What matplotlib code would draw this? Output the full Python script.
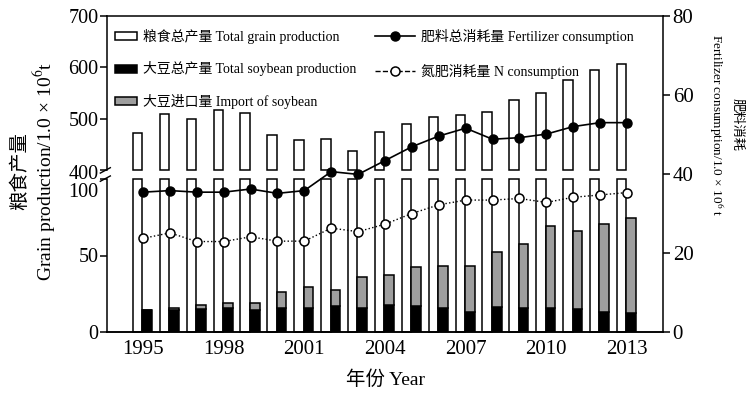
import numpy as np
import matplotlib
matplotlib.use("Agg")
import matplotlib.pyplot as plt
from matplotlib.lines import Line2D
from matplotlib.transforms import ScaledTranslation

plt.rcParams['font.family'] = ['Liberation Serif', 'Noto Sans CJK SC']
plt.rcParams['mathtext.fontset'] = 'stix'

years = np.arange(1995, 2014)
grain = [472, 510, 499, 517, 512, 468, 458, 461, 437, 474,
         489, 504, 507, 513, 536, 550, 575, 594, 606]          # 10^6 t
soy_prod = [14.2, 14.6, 15.3, 15.7, 14.6, 15.7, 15.7, 16.8, 15.7, 17.4,
            16.8, 15.7, 13.1, 16.3, 15.7, 15.7, 15.0, 13.1, 12.5]
soy_import = [0.3, 1.1, 2.6, 3.2, 4.3, 10.3, 13.5, 10.9, 20.0, 20.0,
              26.0, 27.7, 29.9, 36.2, 41.5, 53.8, 51.3, 57.7, 62.3]
fert_total = [35.4, 35.8, 35.4, 35.4, 36.2, 35.1, 35.8, 40.6, 39.9, 43.4,
              46.9, 49.6, 51.6, 48.8, 49.2, 50.1, 52.0, 53.0, 53.0]
fert_n = [23.7, 25.1, 22.9, 22.9, 24.1, 23.0, 23.0, 26.3, 25.4, 27.3,
          30.0, 32.2, 33.4, 33.4, 33.8, 32.8, 34.1, 34.7, 35.3]

xticks = [1995, 1998, 2001, 2004, 2007, 2010, 2013]

grain = np.array(grain, dtype=float)
soy_prod = np.array(soy_prod)
soy_import = np.array(soy_import)

W, H = 754, 394
fig = plt.figure(figsize=(W / 100, H / 100), dpi=100)

def px_axes(left, top, right, bottom):
    return fig.add_axes([left / W, 1 - bottom / H, (right - left) / W, (bottom - top) / H])

ax_low = px_axes(107, 179, 663, 332)   # 0-100
ax_up = px_axes(107, 16, 663, 170)     # 400-700
ax_f = px_axes(107, 16, 663, 332)      # fertilizer, right axis

xlim = (1993.66, 2014.34)
gw, sw = 0.35, 0.36
gx = years - 0.2
sx = years + 0.155
gray = '#9e9e9e'
edge = dict(edgecolor='black', linewidth=1.1)

# lower part: grain bars cut at 100, soybean production + import stacked
ax_low.bar(gx, np.minimum(grain, 100), width=gw, color='white', clip_on=False, **edge)
ax_low.bar(sx, soy_prod, width=sw, color='black', **edge)
ax_low.bar(sx, soy_import, width=sw, bottom=soy_prod, color=gray, **edge)
ax_low.set_ylim(0, 100)
ax_low.set_yticks([0, 50, 100])

# upper part: grain from 400
ax_up.bar(gx, grain - 400, width=gw, bottom=400, color='white', clip_on=False, **edge)
ax_up.set_ylim(400, 700)
ax_up.set_yticks([400, 500, 600, 700])

for ax in (ax_low, ax_up):
    ax.set_xlim(*xlim)
    ax.patch.set_visible(False)
    for s in ('top', 'right', 'bottom'):
        ax.spines[s].set_visible(False)
    ax.spines['left'].set_linewidth(1.1)
    ax.tick_params(axis='y', direction='out', length=5, width=1.1, labelsize=14.5, pad=1)
ax_up.tick_params(axis='x', bottom=False, labelbottom=False)
ax_low.spines['bottom'].set_visible(True)
ax_low.spines['bottom'].set_linewidth(1.1)
ax_low.set_xticks(xticks)
ax_low.tick_params(axis='x', length=0, labelsize=15, pad=6)

# push the 400 / 100 labels apart a little around the break
fig.canvas.draw()
lab400 = ax_up.get_yticklabels()[0]
lab100 = ax_low.get_yticklabels()[-1]
lab400.set_transform(lab400.get_transform() + ScaledTranslation(0, -2 / 100, fig.dpi_scale_trans))
lab100.set_transform(lab100.get_transform() + ScaledTranslation(0, -11 / 100, fig.dpi_scale_trans))

# break marks on the left axis
kw = dict(color='black', lw=1.0, clip_on=False)
ax_up.plot([-0.012, 0.006], [-0.02, 0.015], transform=ax_up.transAxes, **kw)
ax_low.plot([-0.012, 0.006], [0.985, 1.02], transform=ax_low.transAxes, **kw)

# fertilizer lines on the right axis
ax_f.plot(years, fert_total, '-', color='black', lw=1.2, marker='o', ms=6.5,
          mfc='black', mec='black')
ax_f.plot(years, fert_n, ':', color='black', lw=1.0, marker='o', ms=6.5,
          mfc='white', mec='black', mew=1.1)
ax_f.set_xlim(*xlim)
ax_f.set_ylim(0, 80)
ax_f.set_yticks([0, 20, 40, 60, 80])
ax_f.patch.set_visible(False)
ax_f.spines['left'].set_visible(False)
for s in ('top', 'right', 'bottom'):
    ax_f.spines[s].set_linewidth(1.1)
ax_f.yaxis.tick_right()
ax_f.tick_params(axis='y', direction='out', length=5, width=1.1, labelsize=15, pad=2)
ax_f.tick_params(axis='x', bottom=False, labelbottom=False)

# legends
bar_handles = [plt.Rectangle((0, 0), 1, 1, facecolor=c, **edge) for c in ('white', 'black', gray)]
bar_labels = ['粮食总产量 Total grain production',
              '大豆总产量 Total soybean production',
              '大豆进口量 Import of soybean']
leg1 = ax_f.legend(bar_handles, bar_labels, loc='upper left', bbox_to_anchor=(115 / W, 1 - 29 / H),
                   bbox_transform=fig.transFigure, frameon=False, borderpad=0, borderaxespad=0,
                   fontsize=10, handlelength=1.6, handleheight=0.5, handletextpad=0.45,
                   labelspacing=1.25)

line_handles = [Line2D([], [], color='black', lw=1.2, marker='o', ms=6.5, mfc='black'),
                Line2D([], [], color='black', lw=1.0, ls='--', marker='o', ms=6.5,
                       mfc='white', mew=1.1)]
line_labels = ['肥料总消耗量 Fertilizer consumption', '氮肥消耗量 N consumption']
ax_f.legend(line_handles, line_labels, loc='upper left', bbox_to_anchor=(375 / W, 1 - 29 / H),
            bbox_transform=fig.transFigure, frameon=False, borderpad=0, borderaxespad=0,
            fontsize=10, handlelength=2.9, handletextpad=0.4, labelspacing=1.45)
ax_f.add_artist(leg1)

# axis titles
fig.text(34 / W, 1 - 171 / H, '粮食产量\nGrain production/1.0 × 10$^6$t', rotation=90,
         ha='center', va='center', multialignment='center', fontsize=14, linespacing=1.1)
fig.text(725 / W, 1 - 125 / H, '肥料消耗\nFertilizer consumption/1.0 × 10$^6$ t', rotation=270,
         ha='center', va='center', multialignment='center', fontsize=9.5, linespacing=1.4)
fig.text(385 / W, 1 - 380 / H, '年份 Year', ha='center', va='center', fontsize=14)

fig.savefig('out.png', dpi=100)
